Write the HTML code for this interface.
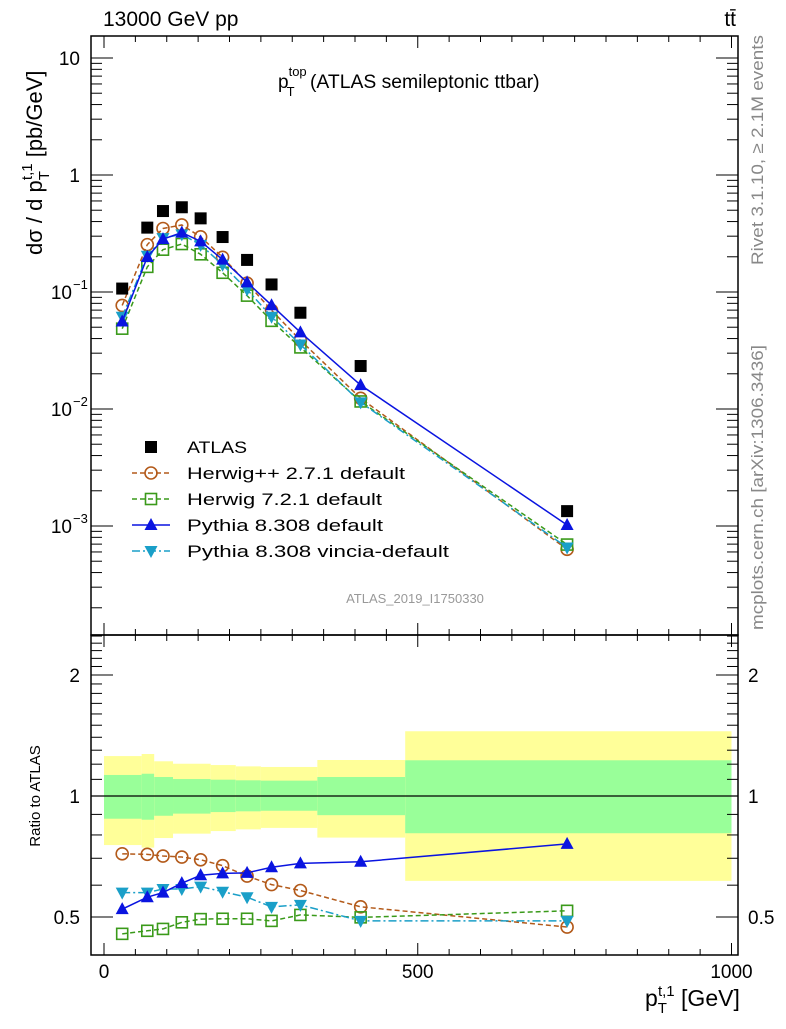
<!DOCTYPE html>
<html><head><meta charset="utf-8"><style>
body{margin:0;background:#fff;}
svg text{font-family:"Liberation Sans",sans-serif;}
</style></head><body>
<svg id="c" width="786" height="1024" xmlns="http://www.w3.org/2000/svg"></svg>
<script>
const xs=[29,69,94,124,154,189,228,267,313,409,738];
const atlas=[0.107,0.355,0.492,0.530,0.426,0.295,0.188,0.116,0.0665,0.0233,0.00134];
const herwigpp=[0.0768,0.254,0.349,0.374,0.296,0.198,0.119,0.0698,0.0387,0.01235,0.000632];
const herwig7=[0.0486,0.164,0.230,0.257,0.210,0.146,0.0931,0.0567,0.0336,0.0116,0.000694];
const pythia=[0.0560,0.199,0.283,0.322,0.271,0.189,0.121,0.0771,0.0452,0.0160,0.00102];
const vincia=[0.0615,0.204,0.289,0.311,0.253,0.171,0.105,0.0615,0.0356,0.0114,0.000655];
const rHpp=[0.718,0.716,0.709,0.705,0.694,0.671,0.632,0.602,0.582,0.530,0.472];
const rH7=[0.454,0.462,0.467,0.485,0.494,0.495,0.495,0.489,0.506,0.499,0.518];
const rPy=[0.523,0.560,0.575,0.607,0.635,0.642,0.644,0.665,0.680,0.686,0.760];
const rVi=[0.575,0.575,0.587,0.587,0.595,0.578,0.560,0.530,0.536,0.489,0.489];
const bandEdges=[0,60,80,110,170,210,250,340,480,1000];
const yelHi=[1.257,1.272,1.220,1.203,1.194,1.185,1.181,1.229,1.449];
const grnHi=[1.128,1.136,1.115,1.102,1.098,1.094,1.092,1.115,1.227];
const grnLo=[0.878,0.873,0.893,0.904,0.912,0.916,0.919,0.896,0.808];
const yelLo=[0.755,0.744,0.786,0.806,0.818,0.826,0.833,0.788,0.615];

const svg=document.getElementById('c');
const NS='http://www.w3.org/2000/svg';
function mk(t,a,p){const e=document.createElementNS(NS,t);for(const k in a)e.setAttribute(k,a[k]);(p||svg).appendChild(e);return e;}
const L=91,R=738,T=36,M=635,B=955;
const X=v=>104+v*0.6275;
const Y=v=>175-117*Math.log10(v);
const YR=v=>796-121*Math.log2(v);

for(let i=0;i<bandEdges.length-1;i++){
  const x0=X(bandEdges[i]),x1=X(bandEdges[i+1]);
  const y=mk('rect',{x:x0,y:YR(yelHi[i]),width:x1-x0,height:YR(yelLo[i])-YR(yelHi[i]),fill:'#ffff99'});
  
  
  const g=mk('rect',{x:x0,y:YR(grnHi[i]),width:x1-x0,height:YR(grnLo[i])-YR(grnHi[i]),fill:'#99ff99'});
  
  
}
mk('line',{x1:L,x2:R,y1:YR(1),y2:YR(1),stroke:'#000','stroke-width':1.2});

const f1=mk('rect',{x:L,y:T,width:R-L,height:M-T,fill:'none',stroke:'#000','stroke-width':1.5});

const f2=mk('rect',{x:L,y:M,width:R-L,height:B-M,fill:'none',stroke:'#000','stroke-width':1.5});


for(let v=0;v<=1000;v+=50){
  const x=X(v),len=(v%500==0)?12:6;
  [[T,1],[M,-1],[M,1],[B,-1]].forEach(([y0,d])=>mk('line',{x1:x,x2:x,y1:y0,y2:y0+d*len,stroke:'#000','stroke-width':1}));
}
[0,500,1000].forEach(v=>{const t=mk('text',{x:X(v),y:978,'font-size':19,'text-anchor':'middle'});t.textContent=v;
});

for(let e=-4;e<=1;e++){for(let m=1;m<10;m++){const v=m*Math.pow(10,e);const y=Y(v);if(y<T||y>M)continue;
 const len=m==1?22:11;mk('line',{x1:L,x2:L+len,y1:y,y2:y,stroke:'#000'});mk('line',{x1:R,x2:R-len,y1:y,y2:y,stroke:'#000'});}}
const ylabs=[[10,'10',''],[1,'1',''],[0.1,'10','−1'],[0.01,'10','−2'],[0.001,'10','−3']];
ylabs.forEach(([v,b,s])=>{const t=mk('text',{x:s?72:80,y:Y(v)+7,'font-size':19,'text-anchor':'end'});t.textContent=b;
 
 if(s){const u=mk('text',{x:73,y:Y(v)-3,'font-size':13});u.textContent=s;}});

[0.5,0.6,0.7,0.8,0.9,1,1.1,1.2,1.3,1.4,1.5,1.6,1.7,1.8,1.9,2,2.1,2.2,2.3,2.4,2.5].forEach(v=>{const y=YR(v);if(y<M||y>B)return;
 const len=(v==0.5||v==1||v==2)?22:11;mk('line',{x1:L,x2:L+len,y1:y,y2:y,stroke:'#000'});mk('line',{x1:R,x2:R-len,y1:y,y2:y,stroke:'#000'});});
[[2,'2'],[1,'1'],[0.5,'0.5']].forEach(([v,s])=>{
 const t=mk('text',{x:80,y:YR(v)+7,'font-size':19,'text-anchor':'end'});t.textContent=s;
 
 const t2=mk('text',{x:748,y:YR(v)+7,'font-size':19});t2.textContent=s;
 });

function marker(type,x,y,col,g){
 if(type=='sq') mk('rect',{x:x-6,y:y-6,width:12,height:12,fill:'#000'},g);
 else if(type=='osq') mk('rect',{x:x-5.5,y:y-5.5,width:11,height:11,fill:'none',stroke:col,'stroke-width':1.6},g);
 else if(type=='oc') mk('circle',{cx:x,cy:y,r:6,fill:'none',stroke:col,'stroke-width':1.6},g);
 else if(type=='tu') mk('polygon',{points:`${x-6.5},${y+5} ${x+6.5},${y+5} ${x},${y-7}`,fill:col},g);
 else if(type=='td') mk('polygon',{points:`${x-6.5},${y-5} ${x+6.5},${y-5} ${x},${y+7}`,fill:col},g);
}
function series(vals,yf,col,dash,type,name){
 const g=mk('g',{});
 if(col){mk('polyline',{points:vals.map((v,i)=>X(xs[i])+','+yf(v)).join(' '),fill:'none',stroke:col,'stroke-width':1.5,'stroke-dasharray':dash},g);}
 vals.forEach((v,i)=>marker(type,X(xs[i]),yf(v),col,g));
}
const C={hpp:'#b35a1a',h7:'#3a9a1a',py:'#0a14e0',vi:'#1a9fc8'};
series(herwigpp,Y,C.hpp,'5,3','oc','herwigpp-main');
series(herwig7,Y,C.h7,'5,3','osq','herwig7-main');
series(vincia,Y,C.vi,'8,3,2,3','td','vincia-main');
series(pythia,Y,C.py,'','tu','pythia-main');
series(atlas,Y,null,'','sq','atlas-data');
series(rHpp,YR,C.hpp,'5,3','oc','herwigpp-ratio');
series(rH7,YR,C.h7,'5,3','osq','herwig7-ratio');
series(rVi,YR,C.vi,'8,3,2,3','td','vincia-ratio');
series(rPy,YR,C.py,'','tu','pythia-ratio');

const leg=[['sq',null,'','ATLAS',60],['oc',C.hpp,'5,3','Herwig++ 2.7.1 default',218],['osq',C.h7,'5,3','Herwig 7.2.1 default',195],['tu',C.py,'','Pythia 8.308 default',196],['td',C.vi,'8,3,2,3','Pythia 8.308 vincia-default',262]];
leg.forEach((l,i)=>{const y=447+i*26;const g=mk('g',{});
 if(l[1])mk('line',{x1:132,x2:170,y1:y,y2:y,stroke:l[1],'stroke-width':1.5,'stroke-dasharray':l[2]},g);
 marker(l[0],151,y,l[1],g);const t=mk('text',{x:187,y:y+6,'font-size':17,textLength:l[4],lengthAdjust:'spacingAndGlyphs'},g);t.textContent=l[3];});

function txt(s,a,name){const t=mk('text',a);t.innerHTML=s;return t;}
txt('13000 GeV pp',{x:103,y:26,'font-size':21},'header-title');
txt('t<tspan>t̄</tspan>',{x:736,y:26,'font-size':21,'text-anchor':'end'},'process-label');
txt('p<tspan font-size="13" dy="-12">top</tspan><tspan font-size="13" dx="-20" dy="20">T</tspan><tspan dy="-8" dx="10" textLength="235" lengthAdjust="spacingAndGlyphs"> (ATLAS semileptonic ttbar)</tspan>',{x:278,y:88,'font-size':19},'plot-title');
txt('ATLAS_2019_I1750330',{x:415,y:603,'font-size':13,fill:'#999','text-anchor':'middle'},'analysis-id');
txt('Rivet 3.1.10, ≥ 2.1M events',{x:0,y:0,'font-size':17,fill:'#888',textLength:230,lengthAdjust:'spacingAndGlyphs',transform:'translate(763,265) rotate(-90)'},'rivet-version');
txt('mcplots.cern.ch [arXiv:1306.3436]',{x:0,y:0,'font-size':17,fill:'#888',textLength:285,lengthAdjust:'spacingAndGlyphs',transform:'translate(763,630) rotate(-90)'},'mcplots-credit');
txt('dσ / d p<tspan font-size="15" dy="7">T</tspan><tspan font-size="15" dy="-17" dx="-9">t,1</tspan><tspan dy="10"> [pb/GeV]</tspan>',{x:0,y:0,'font-size':22,transform:'translate(42,255) rotate(-90)'},'y-axis-title');
txt('Ratio to ATLAS',{x:0,y:0,'font-size':15,'text-anchor':'middle',transform:'translate(40,796) rotate(-90)'},'ratio-axis-title');
txt('p<tspan font-size="15" dy="7">T</tspan><tspan font-size="15" dy="-17" dx="-9">t,1</tspan><tspan dy="10"> [GeV]</tspan>',{x:645,y:1006,'font-size':23},'x-axis-title');
</script>
</body></html>
